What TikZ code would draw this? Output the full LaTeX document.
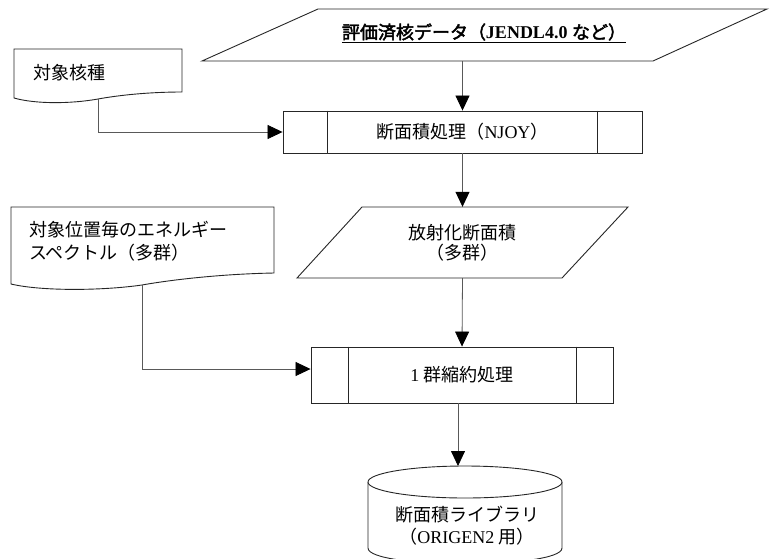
\documentclass[tikz,border=0pt]{standalone}
\usepackage{fontspec}
\setmainfont{Liberation Serif}
\newfontfamily\jp{Noto Sans CJK JP}[AutoFakeBold=2.5]
\newcommand\latn[1]{{\rmfamily #1}}
\usetikzlibrary{arrows.meta,calc}
\begin{document}
\begin{tikzpicture}[x=1pt,y=-1pt,
  shapeline/.style={draw=black!85, line width=0.9pt, fill=white},
  conn/.style={draw=black!65, line width=0.8pt},
  arr/.style={conn, -{Triangle[length=15pt,width=14pt,color=black]}},
  lbl/.style={font=\jp\fontsize{18}{22}\selectfont, inner sep=0pt},
  boxnode/.style={draw=none, inner sep=0pt}
]
\useasboundingbox (0,0) rectangle (782,558);
\fill[white] (0,0) rectangle (782,558);
\clip (0,0) rectangle (782,558);

% evaluated nuclear data (parallelogram)
\node[boxnode, minimum width=565pt, minimum height=52pt] (data) at (484.5,35) {};
\draw[shapeline] (202,61) -- (318,9) -- (767,9) -- (653,61) -- cycle;
\node[lbl] (datatxt) at (484,33) {\bfseries\underline{評価済核データ（\latn{JENDL4.0 }など）}};

% target nuclide (document)
\draw[shapeline] (14,98) -- (14,49) -- (182,49) -- (182,92)
  .. controls (150,92) and (120,95) .. (98,99)
  .. controls (70,104) and (35,104) .. (14,98) -- cycle;
\coordinate (d1out) at (98,99);
\node[lbl, anchor=west] (nuc) at (33,73) {対象核種};

% NJOY process
\node[shapeline, lbl, minimum width=359pt, minimum height=42pt] (njoy) at (462.5,132) {断面積処理（\latn{NJOY}）};
\draw[shapeline] ([xshift=45pt]njoy.north west) -- ([xshift=45pt]njoy.south west);
\draw[shapeline] ([xshift=-45pt]njoy.north east) -- ([xshift=-45pt]njoy.south east);

% activation cross section (parallelogram)
\node[boxnode, minimum width=331pt, minimum height=71pt] (radbox) at (462.5,242.5) {};
\draw[shapeline] (297,278) -- (362,207) -- (628,207) -- (562,278) -- cycle;
\node[lbl, align=center, font=\jp\fontsize{18}{20}\selectfont] (rad) at (462.5,242.5) {放射化断面積\\（多群）};

% spectrum (document)
\draw[shapeline] (11,284) -- (11,207) -- (274,207) -- (274,273)
  .. controls (220,274) and (170,280) .. (142,285)
  .. controls (100,291) and (40,291) .. (11,284) -- cycle;
\coordinate (d2out) at (142,285);
\node[lbl, anchor=west, align=left, font=\jp\fontsize{18}{23}\selectfont] (spec) at (29,241.5) {対象位置毎のエネルギー\\スペクトル（多群）};

% one-group collapsing process
\node[shapeline, lbl, minimum width=302pt, minimum height=56pt] (grp) at (462,375) {\latn{1} 群縮約処理};
\draw[shapeline] ([xshift=38pt]grp.north west) -- ([xshift=38pt]grp.south west);
\draw[shapeline] ([xshift=-37pt]grp.north east) -- ([xshift=-37pt]grp.south east);

% library (cylinder)
\draw[shapeline] (368,482) -- (368,548) .. controls (368,569) and (562,569) .. (562,548) -- (562,482);
\draw[shapeline] (465,482) ellipse [x radius=97pt, y radius=16pt];
\coordinate (libtop) at (458,466);
\node[lbl, align=center] (lib) at (467,526) {断面積ライブラリ\\（\latn{ORIGEN2} 用）};

% connectors
\draw[arr] (data.south -| njoy.north) -- (njoy.north);
\draw[arr] (d1out) |- (njoy.west);
\draw[arr] (njoy.south) -- (radbox.north);
\draw[arr] (radbox.south) -- (grp.north);
\draw[arr] (d2out) |- ([yshift=6pt]grp.west);
\draw[arr] ([xshift=-4pt]grp.south) -- (libtop);
\end{tikzpicture}
\end{document}
